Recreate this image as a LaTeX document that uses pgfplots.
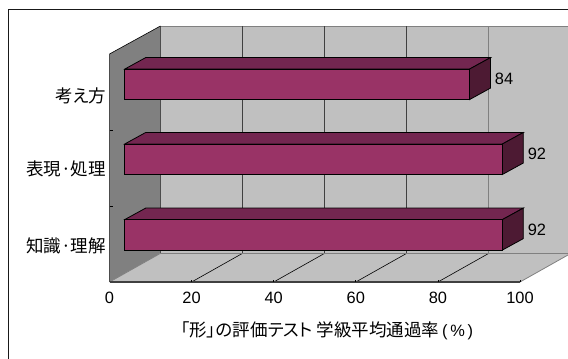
\documentclass[border=0pt]{standalone}
\usepackage{fontspec}
\usepackage{pgfplots}
\pgfplotsset{compat=1.18}
\setmainfont{Liberation Sans}
\newfontfamily\cjk[RawFeature=+palt]{Noto Sans CJK JP}
\newcommand{\jp}{\fontsize{17.5}{20}\selectfont\cjk}
\definecolor{wallback}{HTML}{C0C0C0}
\definecolor{wallside}{HTML}{808080}
\definecolor{barfront}{HTML}{993366}
\definecolor{bartop}{HTML}{732650}
\definecolor{barside}{HTML}{4D1A33}
\begin{document}
\begin{tikzpicture}[x=1pt,y=1pt]
\useasboundingbox (0,0) rectangle (568,359);
\clip (0,0) rectangle (568,359);
% outer chart frame, running past the right and lower edges
\draw[line width=1.3pt,color=black!90] (8.7,349.5) rectangle (620,-20);
\begin{axis}[
  at={(109.5pt,77pt)}, anchor=south west,
  scale only axis, width=410.5pt, height=228pt,
  xmin=0, xmax=100, ymin=0, ymax=228,
  clip=false,
  axis line style={draw=none},
  font=\fontsize{16.4}{18}\selectfont,
  /pgf/number format/assume math mode=true,
  xtick={0,20,40,60,80,100},
  ytick={37,114,187},
  yticklabels={{\jp 知識·理解},{\jp 表現·処理},{\jp 考え方}},
  major tick length=0pt,
  xticklabel style={yshift=-7pt},
  yticklabel style={xshift=0pt,yshift=-1pt},
  xlabel={{\jp 「形」の評価テスト 学級平均通過率}\,(\,\%\,)},
  xlabel style={at={(axis description cs:0.53,-0.215)},anchor=center,font=\fontsize{16.4}{18}\selectfont},
]
% back wall, side wall and floor
\addplot[fill=wallback,draw=wallside,line width=0.8pt] coordinates {(12.42,28.7)(112.42,28.7)(112.42,256)(12.42,256)} -- cycle;
\addplot[fill=wallside,draw=none] coordinates {(0,0)(12.42,28.7)(12.42,256)(0,228)} -- cycle;
\addplot[fill=wallback,draw=none] coordinates {(0,0)(100,0)(112.42,28.7)(12.42,28.7)} -- cycle;
% grid on the back wall
\addplot[black!70,line width=0.7pt] coordinates {(12.42,28.7)(12.42,256)};
\addplot[black!75,line width=0.7pt] coordinates {(32.42,28.7)(32.42,256)};
\addplot[black!75,line width=0.7pt] coordinates {(52.42,28.7)(52.42,256)};
\addplot[black!75,line width=0.7pt] coordinates {(72.42,28.7)(72.42,256)};
\addplot[black!50,line width=0.9pt] coordinates {(92.42,28.7)(92.42,256)};
% grid on the floor
\addplot[wallside,line width=0.8pt] coordinates {(0,0)(12.42,28.7)};
\addplot[black,line width=0.6pt] coordinates {(20,0)(32.42,28.7)};
\addplot[black,line width=0.6pt] coordinates {(40,0)(52.42,28.7)};
\addplot[black,line width=0.6pt] coordinates {(60,0)(72.42,28.7)};
\addplot[black,line width=0.6pt] coordinates {(80,0)(92.42,28.7)};
\addplot[wallside,line width=0.8pt] coordinates {(100,0)(112.42,28.7)};
\addplot[wallside,line width=0.6pt] coordinates {(12.42,28.7)(112.42,28.7)};
% wall and floor edges
\addplot[black,line width=0.6pt] coordinates {(0,228)(12.42,256)};
\addplot[black!70,line width=1pt] coordinates {(0,0)(0,228)};
\addplot[black!75,line width=1.2pt] coordinates {(0,0)(100,0)};
\addplot[black,line width=0.7pt] coordinates {(20,0)(20,2)};
\addplot[black,line width=0.7pt] coordinates {(40,0)(40,2)};
\addplot[black,line width=0.7pt] coordinates {(60,0)(60,2)};
\addplot[black,line width=0.7pt] coordinates {(80,0)(80,2)};
\addplot[black,line width=0.7pt] coordinates {(100,0)(100,2)};
% category ticks on the side wall
\addplot[black,line width=0.7pt] coordinates {(0,76)(0.8,76)};
\addplot[black,line width=0.7pt] coordinates {(0,152)(0.8,152)};
% 知識・理解
\addplot[fill=bartop,draw=black,line width=0.8pt,xshift=15.2pt] coordinates {(0,62.4)(92,62.4)(97.11,73.9)(5.11,73.9)} -- cycle;
\addplot[fill=barside,draw=black,line width=0.8pt,xshift=15.2pt] coordinates {(92,62.4)(97.11,73.9)(97.11,43.4)(92,31.9)} -- cycle;
% 表現・処理
\addplot[fill=bartop,draw=black,line width=0.8pt,xshift=15.2pt] coordinates {(0,138)(92,138)(97.11,149.5)(5.11,149.5)} -- cycle;
\addplot[fill=barside,draw=black,line width=0.8pt,xshift=15.2pt] coordinates {(92,138)(97.11,149.5)(97.11,119)(92,107.5)} -- cycle;
% 考え方
\addplot[fill=bartop,draw=black,line width=0.8pt,xshift=15.2pt] coordinates {(0,212.9)(84,212.9)(89.11,224.4)(5.11,224.4)} -- cycle;
\addplot[fill=barside,draw=black,line width=0.8pt,xshift=15.2pt] coordinates {(84,212.9)(89.11,224.4)(89.11,193.9)(84,182.4)} -- cycle;
% front faces with their values
\addplot[xbar,bar width=30.5pt,bar shift=0pt,fill=barfront,draw=black,line width=0.8pt,xshift=15.2pt,
  nodes near coords,
  every node near coord/.append style={anchor=west,xshift=25pt,yshift=5pt,font=\fontsize{16.4}{18}\selectfont,text=black,inner sep=0pt,/pgf/number format/assume math mode=true}]
  coordinates {(92,47.15)(92,122.75)(84,197.65)};
\end{axis}
\end{tikzpicture}
\end{document}
